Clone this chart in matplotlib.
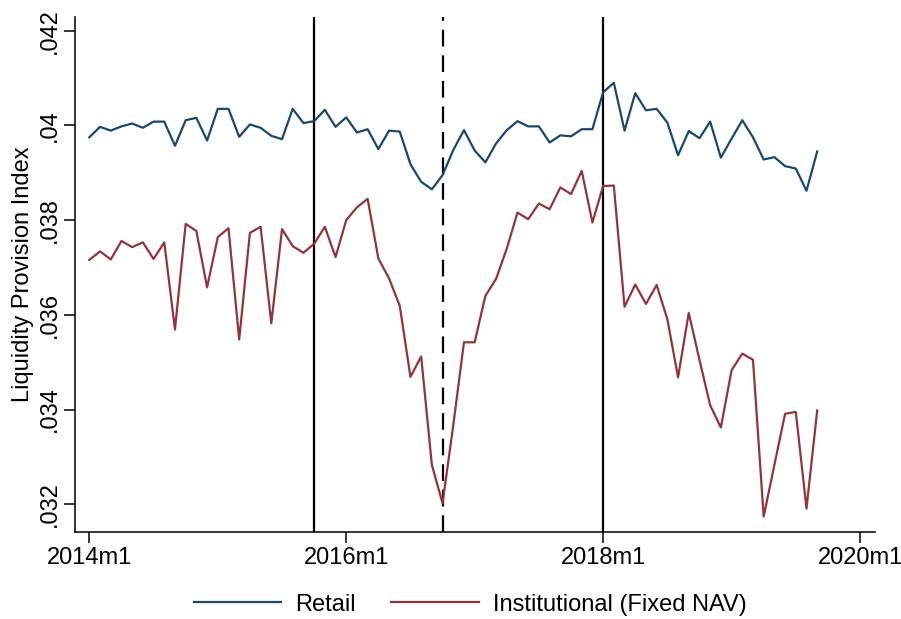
import numpy as np
import pandas as pd
import matplotlib
matplotlib.use("Agg")
import matplotlib.pyplot as plt
from matplotlib.ticker import FuncFormatter

plt.rcParams['font.family'] = ['Liberation Sans', 'DejaVu Sans']

# monthly series, 2014m1 - 2019m9
start = "2014-01"
retail = [
    0.03975, 0.03997, 0.03989, 0.03998, 0.04004, 0.03995, 0.04008, 0.04008,
    0.03957, 0.04011, 0.04016, 0.03968, 0.04035, 0.04035, 0.03976, 0.04002,
    0.03995, 0.03978, 0.03971, 0.04035, 0.04005, 0.04009, 0.04033, 0.03997,
    0.04017, 0.03985, 0.03992, 0.03950, 0.03989, 0.03987, 0.03918, 0.03881,
    0.03865, 0.03895, 0.03948, 0.03990, 0.03947, 0.03922, 0.03962, 0.03990,
    0.04009, 0.03998, 0.03998, 0.03964, 0.03979, 0.03977, 0.03992, 0.03992,
    0.04070, 0.04090, 0.03989, 0.04068, 0.04032, 0.04035, 0.04006, 0.03937,
    0.03988, 0.03973, 0.04008, 0.03932, 0.03972, 0.04011, 0.03975, 0.03928,
    0.03933, 0.03914, 0.03909, 0.03862, 0.03945,
]
institutional = [
    0.03716, 0.03734, 0.03717, 0.03756, 0.03743, 0.03753, 0.03718, 0.03753,
    0.03569, 0.03792, 0.03777, 0.03658, 0.03764, 0.03783, 0.03548, 0.03773,
    0.03786, 0.03582, 0.03781, 0.03745, 0.03731, 0.03750, 0.03786, 0.03722,
    0.03800, 0.03827, 0.03845, 0.03719, 0.03677, 0.03619, 0.03469, 0.03512,
    0.03283, 0.03202, 0.03367, 0.03542, 0.03542, 0.03640, 0.03676, 0.03740,
    0.03816, 0.03802, 0.03835, 0.03823, 0.03869, 0.03855, 0.03904, 0.03795,
    0.03872, 0.03873, 0.03617, 0.03664, 0.03623, 0.03663, 0.03591, 0.03468,
    0.03604, 0.03505, 0.03409, 0.03362, 0.03483, 0.03518, 0.03505, 0.03174,
    0.03283, 0.03391, 0.03395, 0.03191, 0.03398,
]
solid_events = ["2015-10", "2018-01"]
dashed_events = ["2016-10"]
xtick_months = ["2014-01", "2016-01", "2018-01", "2020-01"]
yticks = [0.032, 0.034, 0.036, 0.038, 0.040, 0.042]

base = pd.Period(start, freq="M")


def mnum(p):
    # months since 2014m1
    return (pd.Period(p, freq="M") - base).n


periods = pd.period_range(start, periods=len(retail), freq="M")
x = np.array([(p - base).n for p in periods])

navy = "#1a476f"
maroon = "#90353b"
fs = 17

fig = plt.figure(figsize=(9.01, 6.19), dpi=100)
ax = fig.add_axes([75 / 901, 1 - 531.7 / 619, 800 / 901, 515 / 619])

ax.plot(x, retail, color=navy, lw=1.6, label="Retail", zorder=3)
ax.plot(x, institutional, color=maroon, lw=1.6, label="Institutional (Fixed NAV)", zorder=3)

for e in solid_events:
    ax.axvline(mnum(e), color="black", lw=1.6, zorder=2)
for e in dashed_events:
    ax.axvline(mnum(e), color="black", lw=1.6, ls=(0, (7.5, 4)), zorder=2)

ax.set_xlim(-1.34, 73.4)
ax.set_ylim(0.03142, 0.042296)

ax.set_xticks([mnum(m) for m in xtick_months])
ax.set_xticklabels([m.replace("-0", "m").replace("-", "m") for m in xtick_months])
ax.set_yticks(yticks)
ax.yaxis.set_major_formatter(FuncFormatter(lambda v, _: ("%.3f" % v).lstrip("0").rstrip("0")))
for lab in ax.get_yticklabels():
    lab.set_rotation(90)
    lab.set_va("center")

ax.tick_params(axis="both", direction="out", length=8, width=1.1, labelsize=fs, pad=3)
ax.tick_params(axis="y", pad=2)
for side in ["top", "right"]:
    ax.spines[side].set_visible(False)
for side in ["left", "bottom"]:
    ax.spines[side].set_linewidth(1.1)

ax.set_ylabel("Liquidity Provision Index", fontsize=fs, labelpad=4)

fig.legend(loc="center", bbox_to_anchor=(0.522, 0.023), ncol=2, frameon=False,
           fontsize=fs, handlelength=3.7, handletextpad=0.6, columnspacing=1.5)

fig.savefig("out.png", dpi=100)
